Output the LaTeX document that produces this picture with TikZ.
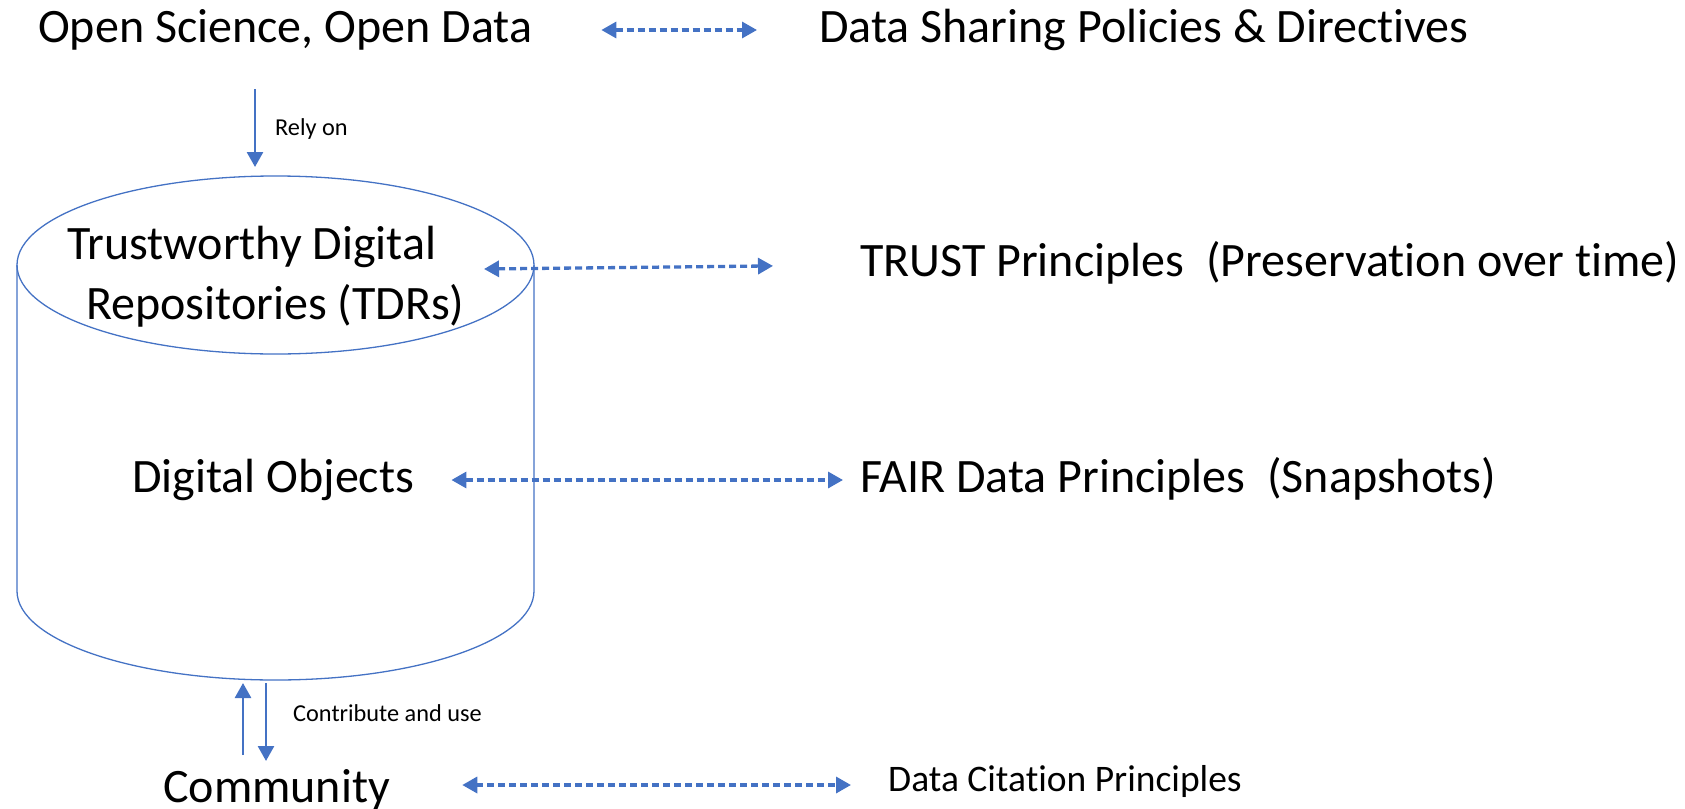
\documentclass[tikz,border=0pt]{standalone}
\usepackage{fontspec}
\setmainfont{Carlito}[Ligatures=NoCommon]
\usetikzlibrary{arrows.meta,calc}
\definecolor{offblue}{HTML}{4472C4}
\begin{document}
\begin{tikzpicture}[x=1pt,y=-1pt,
    >={Triangle[length=15pt,width=16pt]},
    big/.style={inner sep=0pt,anchor=base west,font=\fontsize{48}{56}\selectfont},
    mid/.style={inner sep=0pt,anchor=base west,font=\fontsize{37.5}{44}\selectfont},
    small/.style={inner sep=0pt,anchor=base west,font=\fontsize{24.3}{30}\selectfont},
    dasharrow/.style={<->,offblue,line width=3.3pt,dash pattern=on 7pt off 4pt},
    solidarrow/.style={->,offblue,line width=2.7pt}]
    \useasboundingbox (0,0) rectangle (1685,808);
    % the repository cylinder
    \draw[offblue,line width=1.3pt] (275.5,265) ellipse [x radius=258.5,y radius=89];
    \draw[offblue,line width=1.3pt] (17,265) -- (17,591) arc[start angle=180,end angle=0,x radius=258.5,y radius=89] -- (534,265);
    \coordinate (cyltop) at (255,167);
    \coordinate (cylbot) at (255,683);
    \coordinate (rim) at (484,269);
    % texts
    \node[big](open)at(38,43){Open Science, Open Data};
    \node[big](policy)at(819,43){Data Sharing Policies \& Directives};
    \node[small](rely)at(275,135){Rely on};
    \node[big](tdr)at(67,259){Trustworthy Digital};
    \node[big](tdrs)at(86,319){Repositories (TDRs)};
    \node[big](trust)at(860,276){TRUST Principles\ \ (Preservation over time)};
    \node[big](obj)at(132,492){Digital Objects};
    \node[big](fair)at(860,492){FAIR Data Principles\ \ (Snapshots)};
    \node[small](contrib)at(293,721){Contribute and use};
    \node[big](comm)at(163,802){Community};
    \node[mid](cite)at(888,791){Data Citation Principles};
    % connectors
    \draw[dasharrow,shorten <=69pt,shorten >=62pt] ([yshift=13pt]open.base east) -- ([yshift=13pt]policy.base west);
    \draw[solidarrow] ($(open.base -| cyltop)+(0,46)$) -- (cyltop);
    \draw[dasharrow,shorten >=87pt] (rim) -- ([yshift=11pt]trust.base west);
    \draw[dasharrow,shorten <=37pt,shorten >=17pt] ([yshift=12pt]obj.base east) -- ([yshift=12pt]fair.base west);
    \draw[solidarrow] ($(comm.base -| cylbot)+(-12,-47)$) -- ($(cylbot)+(-12,0)$);
    \draw[solidarrow] ($(cylbot)+(11,0)$) -- ($(comm.base -| cylbot)+(11,-41)$);
    \draw[dasharrow,shorten <=72pt,shorten >=37pt] ([yshift=17pt]comm.base east) -- ([yshift=6pt]cite.base west);
\end{tikzpicture}
\end{document}
